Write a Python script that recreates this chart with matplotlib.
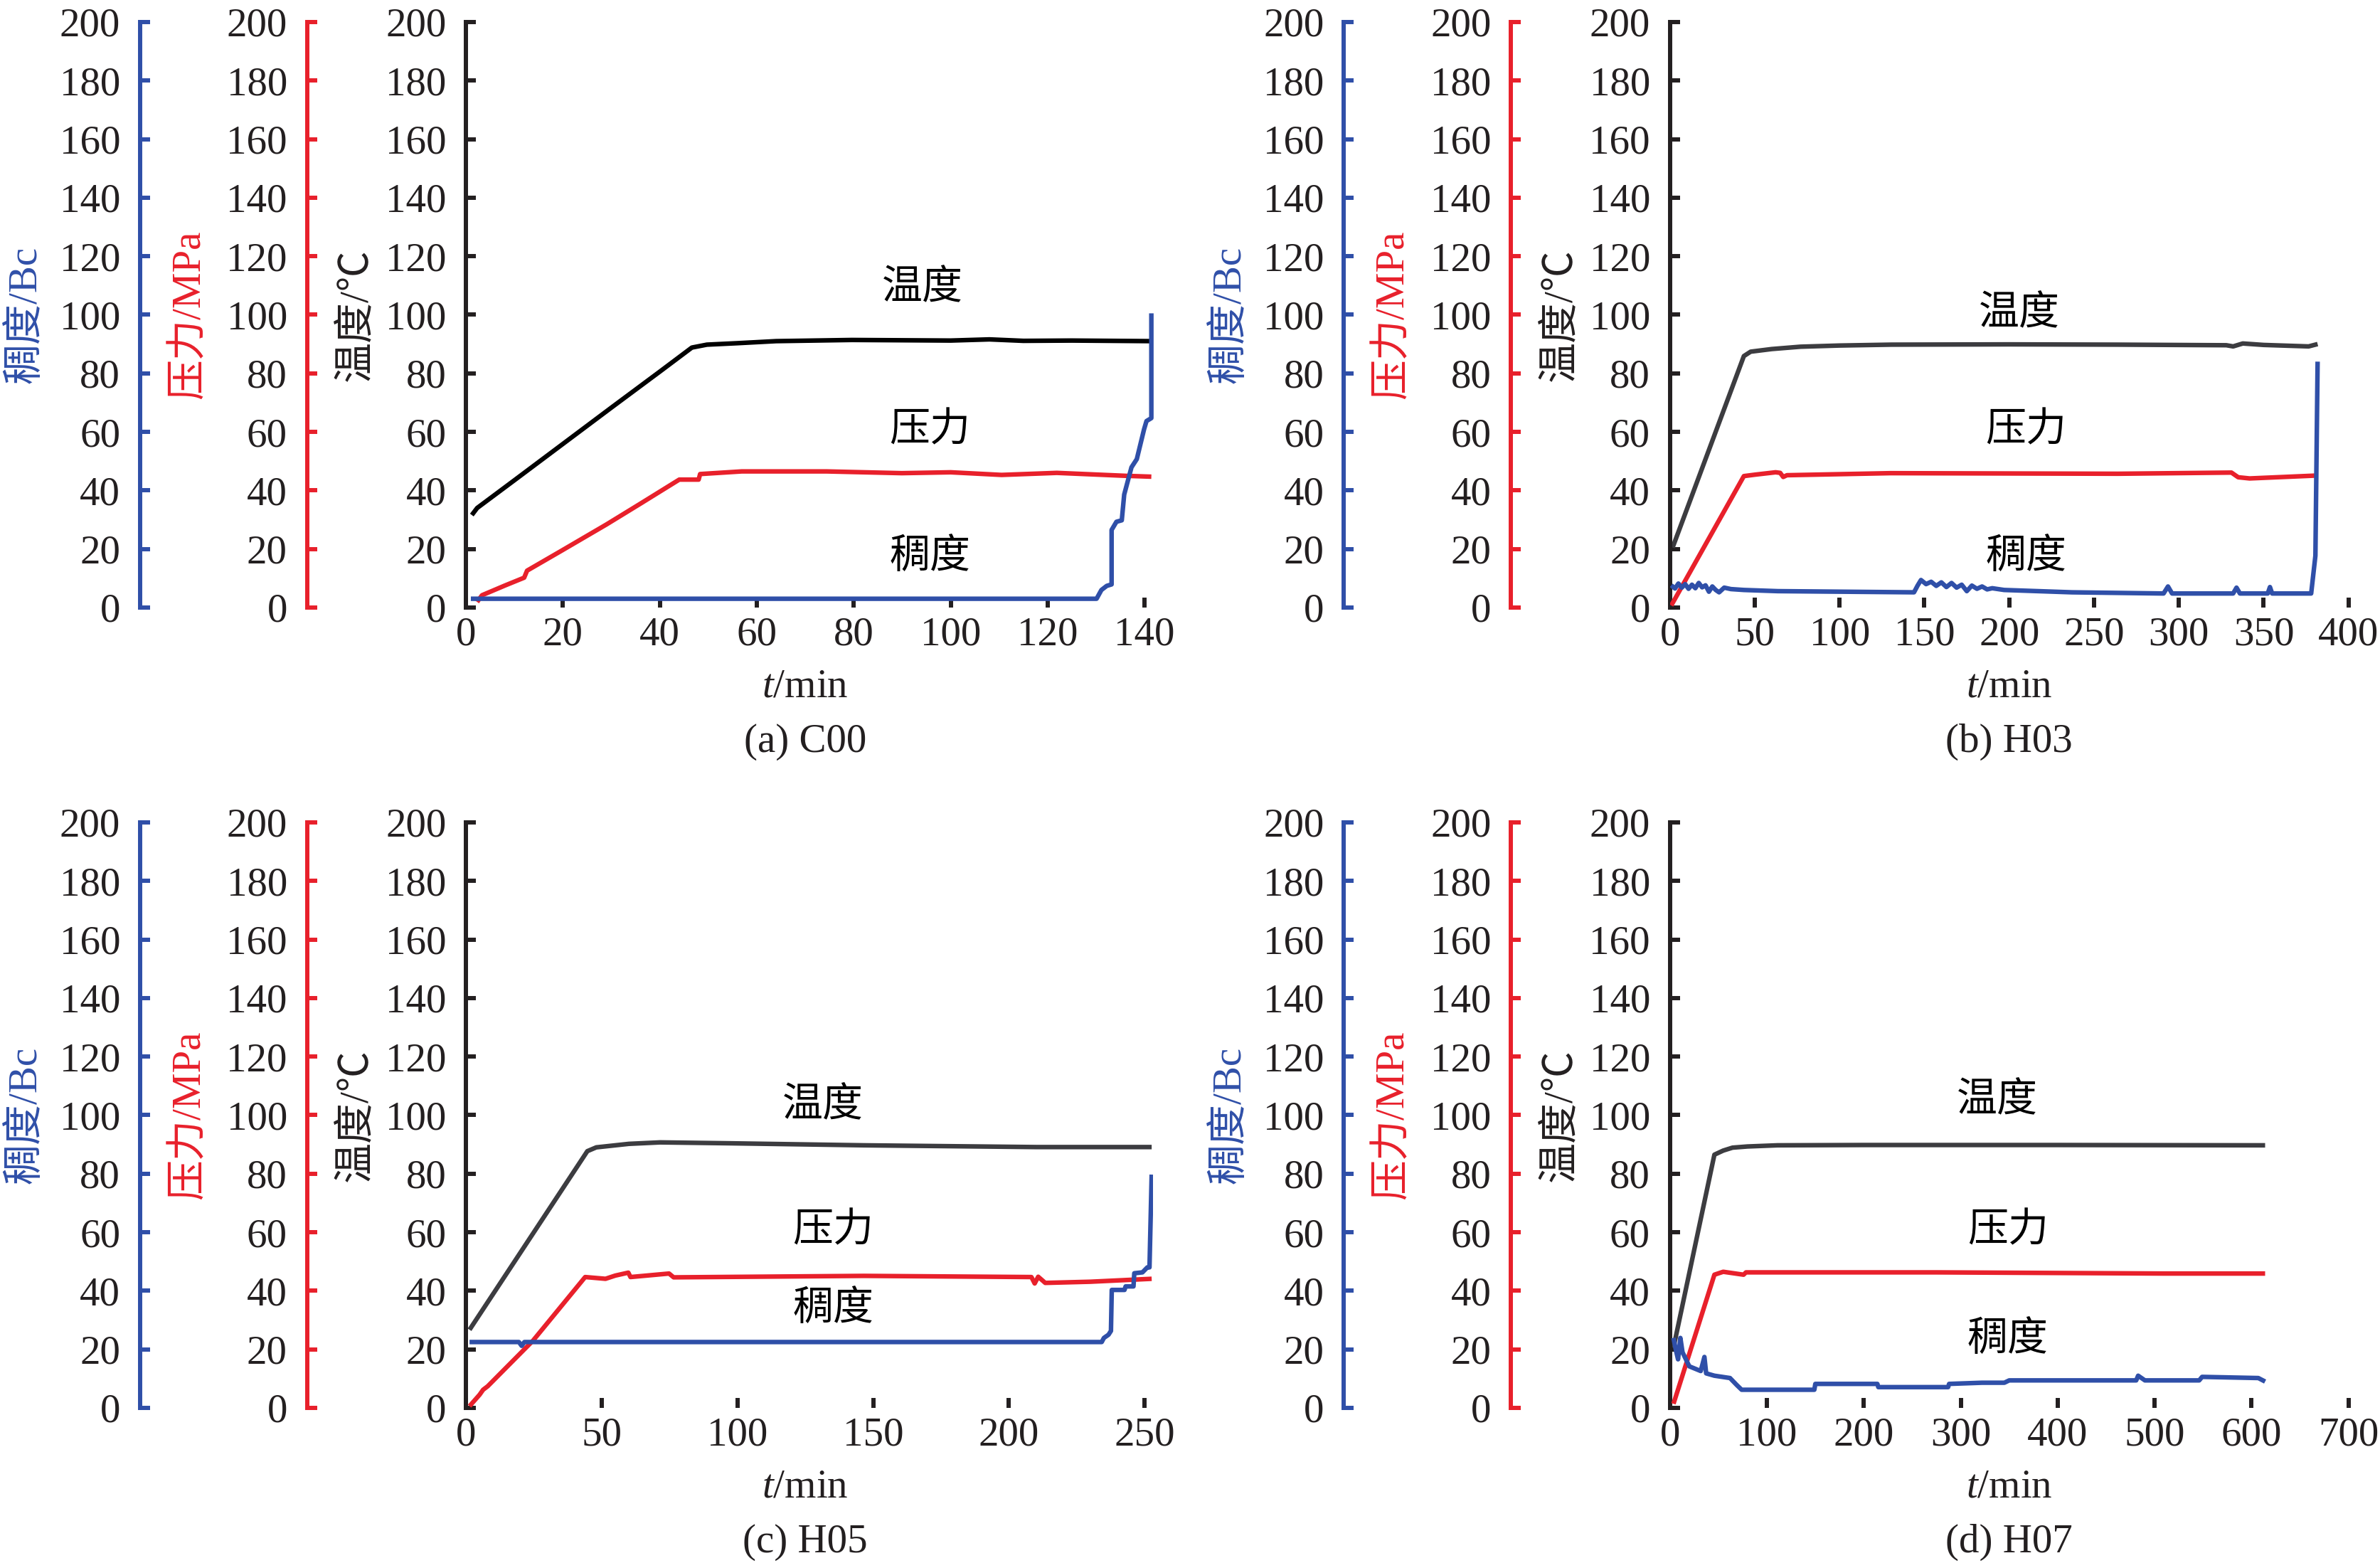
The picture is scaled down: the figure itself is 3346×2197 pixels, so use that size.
import matplotlib
matplotlib.use("Agg")
import matplotlib.pyplot as plt
from matplotlib.transforms import offset_copy

plt.rcParams["font.family"] = ["Liberation Serif", "Noto Sans CJK SC"]
plt.rcParams["mathtext.fontset"] = "custom"
plt.rcParams["mathtext.it"] = "Liberation Serif:italic"
plt.rcParams["mathtext.rm"] = "Liberation Serif"
plt.rcParams["axes.unicode_minus"] = False

BLUE = "#2f4fa8"
RED = "#e8202b"
INK = "#231f20"
GRAY = "#3c3c40"

# ---- (a) C00 ----
a_temp_t = [1.2, 2.3, 10, 20, 30, 40, 46.6, 49.7, 56, 64, 79.6, 90, 100, 108, 115, 125, 141.4]
a_temp_v = [31.6, 34, 43.5, 55.9, 68.3, 80.6, 88.8, 89.8, 90.3, 91, 91.4, 91.3, 91.2, 91.6, 91.1, 91.2, 91.0]
a_pres_t = [2.3, 3.3, 8, 12, 12.6, 19.8, 29, 36, 44, 48, 48.3, 56.9, 74.4, 89.9, 100, 110.5, 121.9, 136, 141.4]
a_pres_v = [1.9, 4.2, 7.5, 10.2, 12.6, 19.5, 28.4, 35.5, 43.7, 43.7, 45.6, 46.5, 46.5, 45.9, 46.2, 45.3, 46.0, 45.0, 44.7]
a_cons_t = [1, 130.1, 131.1, 132.2, 133.2, 133.2, 134.2, 135.3, 135.8, 137.3, 138.4, 139.9, 140.4, 141.4, 141.4]
a_cons_v = [3.0, 3.0, 6, 7.4, 7.9, 26.5, 29.3, 29.8, 38.6, 47.9, 50.7, 60.9, 63.7, 64.7, 100.5]

# ---- (b) H03 ----
b_temp_t = [1.6, 43.6, 47.6, 60, 77, 100, 130.5, 200, 264, 328, 332, 337.7, 350, 376.5, 381.8]
b_temp_v = [20.5, 85.9, 87.4, 88.3, 89.1, 89.5, 89.8, 89.9, 89.8, 89.6, 89.2, 90.2, 89.7, 89.2, 90.0]
b_pres_t = [0.8, 43.6, 50.3, 62.3, 65, 66.8, 69, 130, 264, 331, 335, 341.7, 381.8]
b_pres_v = [0.7, 44.9, 45.4, 46.2, 46, 44.6, 45.2, 45.9, 45.7, 46.1, 44.5, 44.1, 45.1]
b_cons_t = [0.8, 3, 5, 7, 9, 11, 13, 15, 17, 19, 21, 23, 25, 27, 29, 32, 36, 43.6, 63.6, 103.7,
            143.9, 146, 148, 151, 154, 157, 160, 163, 166, 169, 172, 175, 178, 181, 184, 187, 190,
            197, 237, 291, 293.6, 296, 332, 334, 336, 352.4, 353.7, 355, 378, 380.5, 381.8]
b_cons_v = [7.6, 6.5, 8.2, 6.8, 8.0, 6.4, 7.8, 6.6, 8.4, 6.9, 7.6, 5.4, 7.2, 6.0, 5.2, 6.8, 6.3, 6.0, 5.6, 5.4,
            5.2, 7.5, 9.4, 8.0, 8.8, 7.4, 8.6, 7.0, 8.4, 6.8, 7.8, 5.6, 7.5, 6.4, 7.2, 6.2, 6.6,
            6.0, 5.2, 4.8, 7.2, 4.8, 4.8, 6.8, 4.8, 4.8, 7.0, 4.8, 4.8, 17.7, 84]

# ---- (c) H05 ----
c_temp_t = [1.3, 44.7, 48, 60, 71.5, 96.5, 146.6, 210, 252.6]
c_temp_v = [26.7, 87.7, 89.0, 90.2, 90.7, 90.4, 89.7, 89.1, 89.1]
c_pres_t = [1.3, 5, 6.3, 8, 24.7, 43.9, 51.4, 55, 59.8, 60.6, 74.8, 76.5, 146.6, 208.3, 209.5, 210.8,
            213.4, 230, 252.6]
c_pres_v = [0.6, 4.5, 6.2, 7.4, 23, 44.7, 44.1, 45.2, 46.2, 44.7, 45.9, 44.6, 45.1, 44.7, 42.5, 44.8,
            42.7, 43.1, 44.1]
c_cons_t = [1.3, 19.5, 20.5, 21.5, 234.2, 235, 236.7, 237.6, 237.9, 242.6, 243, 245.9, 246.2, 249.2,
            251, 251.8, 252.6]
c_cons_v = [22.5, 22.5, 21.2, 22.5, 22.5, 23.9, 25, 26.3, 40.3, 40.3, 41.5, 41.5, 46, 46.3, 48, 48, 79.7]

# ---- (d) H07 ----
d_temp_t = [3.7, 45.9, 55, 64.6, 80, 111, 200, 400, 614]
d_temp_v = [20.6, 86.5, 87.9, 88.9, 89.3, 89.7, 89.8, 89.8, 89.7]
d_pres_t = [3.7, 45.9, 55, 76, 78.5, 275, 509, 614]
d_pres_v = [1.4, 45.5, 46.5, 45.5, 46.3, 46.3, 45.9, 45.9]
d_cons_t = [3.7, 6, 8.4, 10.8, 13, 20, 31.8, 35.6, 37.4, 45.9, 62, 69, 74, 149, 150, 214, 215, 287, 288,
            322, 345, 350, 481, 483, 490, 546, 549, 607, 614]
d_cons_v = [23.9, 20, 16.6, 23.9, 19, 14.2, 12.6, 17.4, 11.8, 11, 10.2, 7.8, 6.2, 6.2, 8.2, 8.2, 7.1, 7.1,
            8.2, 8.6, 8.6, 9.4, 9.4, 11, 9.4, 9.4, 10.6, 10.2, 9]

y_ticks = list(range(0, 201, 20))
FS = 41
SPINE_W = 4.3
LINE_W = 4.6

panels = [
    dict(rect=[0.1958, 0.6113, 0.28918, 0.3746], xlim=142, xmax=140, xticks=list(range(0, 141, 20)),
         temp=(a_temp_t, a_temp_v), pres=(a_pres_t, a_pres_v), cons=(a_cons_t, a_cons_v),
         tcolor="black", caption="(a) C00",
         labels=[(94.2, 108.8), (95.7, 60.1), (95.7, 17.1)]),
    dict(rect=[0.70164, 0.6113, 0.28512, 0.3746], xlim=400, xmax=400, xticks=list(range(0, 401, 50)),
         temp=(b_temp_t, b_temp_v), pres=(b_pres_t, b_pres_v), cons=(b_cons_t, b_cons_v),
         tcolor=GRAY, caption="(b) H03",
         labels=[(206, 100), (210, 60.1), (210, 17.1)]),
    dict(rect=[0.1958, 0.09923, 0.28855, 0.3746], xlim=253, xmax=250, xticks=list(range(0, 251, 50)),
         temp=(c_temp_t, c_temp_v), pres=(c_pres_t, c_pres_v), cons=(c_cons_t, c_cons_v),
         tcolor=GRAY, caption="(c) H05",
         labels=[(131.4, 103.1), (135.3, 60.1), (135.3, 33.7)]),
    dict(rect=[0.70164, 0.09923, 0.28512, 0.3746], xlim=700, xmax=700, xticks=list(range(0, 701, 100)),
         temp=(d_temp_t, d_temp_v), pres=(d_pres_t, d_pres_v), cons=(d_cons_t, d_cons_v),
         tcolor=GRAY, caption="(d) H07",
         labels=[(337.5, 104.7), (348.6, 60.1), (348.6, 23.3)]),
]

fig = plt.figure(figsize=(33.46, 21.97), dpi=100)


def style_left(ax, color, label, label_off_px):
    ax.set_ylim(0, 200)
    ax.set_yticks(y_ticks)
    for s in ("top", "right", "bottom"):
        ax.spines[s].set_visible(False)
    ax.spines["left"].set_visible(True)
    ax.spines["left"].set_color(color)
    ax.spines["left"].set_linewidth(SPINE_W)
    ax.tick_params(axis="y", which="both", direction="in", length=10, width=SPINE_W, color=color,
                   labelsize=FS, pad=20, labelcolor=INK, left=True, right=False,
                   labelleft=True, labelright=False)
    ax.set_ylabel(label, color=color, fontsize=FS, va="center")
    ax.yaxis.set_label_coords(0, 0.5, transform=offset_copy(ax.transAxes, fig=fig, x=-label_off_px,
                                                            y=0, units="dots"))


for p in panels:
    ax = fig.add_axes(p["rect"])
    ax.set_xlim(0, p["xlim"])
    ax.set_xticks(p["xticks"])
    ax.spines["bottom"].set_bounds(0, p["xmax"])
    ax.spines["bottom"].set_linewidth(SPINE_W)
    ax.spines["bottom"].set_color(INK)
    ax.tick_params(axis="x", direction="in", length=10, width=SPINE_W, color=INK, labelsize=FS,
                   pad=9, labelcolor=INK)
    style_left(ax, INK, "温度/℃", 153)

    ax_p = ax.twinx()
    ax_p.yaxis.tick_left()
    ax_p.yaxis.set_label_position("left")
    ax_p.spines["left"].set_position(("outward", 161))
    style_left(ax_p, RED, "压力/MPa", 225 + 164)

    ax_c = ax.twinx()
    ax_c.yaxis.tick_left()
    ax_c.yaxis.set_label_position("left")
    ax_c.spines["left"].set_position(("outward", 330))
    style_left(ax_c, BLUE, "稠度/Bc", 459 + 160)

    ax.plot(*p["temp"], color=p["tcolor"], lw=LINE_W, solid_capstyle="butt")
    ax_p.plot(*p["pres"], color=RED, lw=LINE_W, solid_capstyle="butt")
    ax_c.plot(*p["cons"], color=BLUE, lw=LINE_W, solid_capstyle="butt")
    for ax_ in (ax_p, ax_c):
        ax_.set_xlim(0, p["xlim"])

    for (lx, ly), txt in zip(p["labels"], ["温度", "压力", "稠度"]):
        ax.text(lx, ly, txt, fontsize=FS, ha="center", va="center", color="black")

    cx = p["xmax"] / 2 / p["xlim"]
    ax.set_xlabel("$t$/min", fontsize=FS, va="center", color=INK)
    ax.xaxis.set_label_coords(cx, -112 / 823)
    ax.text(cx, -189 / 823, p["caption"], transform=ax.transAxes, fontsize=FS,
            ha="center", va="center", color=INK)

fig.savefig("out.png", dpi=100)
